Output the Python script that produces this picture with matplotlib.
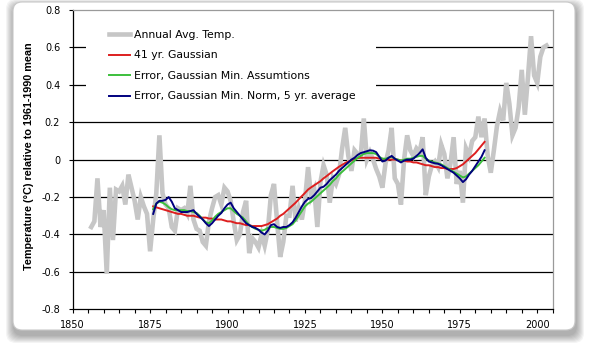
import numpy as np
import matplotlib
matplotlib.use("Agg")
import matplotlib.pyplot as plt
from matplotlib.patches import FancyBboxPatch, Rectangle
from matplotlib.transforms import IdentityTransform

# Annual global temperature anomaly, 1856-2003 (deg C, relative to 1961-1990)
annual_years = list(range(1856, 2004))
annual = [
    -0.36, -0.33, -0.10, -0.36, -0.27, -0.61, -0.15, -0.43, -0.16, -0.17,
    -0.14, -0.24, -0.08, -0.15, -0.22, -0.32, -0.20, -0.25, -0.29, -0.49,
    -0.32, -0.18, 0.13, -0.18, -0.24, -0.26, -0.36, -0.38, -0.26, -0.27,
    -0.26, -0.29, -0.14, -0.32, -0.37, -0.38, -0.44, -0.46, -0.33, -0.26,
    -0.20, -0.19, -0.24, -0.15, -0.17, -0.22, -0.33, -0.43, -0.40, -0.28,
    -0.22, -0.50, -0.42, -0.44, -0.47, -0.40, -0.46, -0.38, -0.19, -0.13,
    -0.33, -0.52, -0.44, -0.30, -0.30, -0.14, -0.33, -0.26, -0.32, -0.22,
    -0.04, -0.20, -0.16, -0.36, -0.12, -0.03, -0.08, -0.23, -0.10, -0.13,
    -0.08, 0.06, 0.17, 0.02, -0.06, 0.05, 0.03, 0.02, 0.22, 0.00,
    0.04, 0.00, -0.05, -0.09, -0.15, -0.02, 0.05, 0.17, -0.10, -0.13,
    -0.24, 0.00, 0.13, 0.05, 0.02, 0.06, 0.04, 0.12, -0.19, -0.09,
    -0.03, -0.01, -0.04, 0.08, 0.03, -0.10, -0.02, 0.12, -0.13, -0.06,
    -0.23, 0.06, 0.02, 0.10, 0.12, 0.23, 0.12, 0.22, 0.02, -0.07,
    0.05, 0.18, 0.26, 0.21, 0.41, 0.30, 0.13, 0.17, 0.28, 0.48,
    0.24, 0.44, 0.66, 0.45, 0.41, 0.55, 0.60, 0.61,
]

# Smoothed curves, 1876-1983
smooth_years = list(range(1876, 1984))
gauss41 = [
    -0.250, -0.255, -0.260, -0.265, -0.270, -0.275, -0.280, -0.285, -0.290, -0.290,
    -0.295, -0.300, -0.300, -0.300, -0.305, -0.310, -0.310, -0.310, -0.315, -0.315,
    -0.320, -0.320, -0.320, -0.325, -0.330, -0.330, -0.335, -0.340, -0.340, -0.345,
    -0.350, -0.350, -0.355, -0.355, -0.355, -0.355, -0.350, -0.345, -0.335, -0.325,
    -0.315, -0.300, -0.290, -0.275, -0.260, -0.245, -0.230, -0.212, -0.195, -0.178,
    -0.160, -0.148, -0.137, -0.126, -0.115, -0.100, -0.088, -0.075, -0.062, -0.050,
    -0.038, -0.028, -0.018, -0.010, -0.004, 0.003, 0.008, 0.010, 0.010, 0.010,
    0.010, 0.010, 0.010, 0.005, 0.005, 0.000, 0.000, 0.000, 0.000, 0.000,
    -0.005, -0.005, -0.010, -0.010, -0.015, -0.015, -0.020, -0.025, -0.030, -0.030,
    -0.035, -0.040, -0.040, -0.045, -0.045, -0.050, -0.050, -0.050, -0.045, -0.035,
    -0.025, -0.010, 0.005, 0.020, 0.035, 0.055, 0.075, 0.095,
]
err_min_assump = [
    -0.265, -0.235, -0.225, -0.230, -0.240, -0.255, -0.265, -0.270, -0.270, -0.270,
    -0.270, -0.275, -0.275, -0.280, -0.285, -0.300, -0.320, -0.335, -0.340, -0.325,
    -0.305, -0.290, -0.280, -0.270, -0.260, -0.260, -0.275, -0.290, -0.300, -0.310,
    -0.330, -0.350, -0.360, -0.370, -0.375, -0.380, -0.375, -0.365, -0.360, -0.360,
    -0.365, -0.370, -0.370, -0.365, -0.355, -0.345, -0.325, -0.300, -0.275, -0.250,
    -0.235, -0.225, -0.210, -0.195, -0.180, -0.165, -0.150, -0.135, -0.115, -0.100,
    -0.080, -0.065, -0.050, -0.035, -0.020, -0.005, 0.010, 0.020, 0.030, 0.035,
    0.035, 0.035, 0.030, 0.015, 0.005, 0.005, 0.010, 0.015, 0.005, 0.000,
    -0.005, 0.000, 0.005, 0.005, 0.010, 0.015, 0.020, 0.020, 0.005, -0.005,
    -0.010, -0.015, -0.020, -0.025, -0.035, -0.045, -0.055, -0.065, -0.075, -0.085,
    -0.095, -0.090, -0.075, -0.060, -0.045, -0.030, -0.010, 0.010,
]
err_min_norm5 = [
    -0.290, -0.235, -0.220, -0.220, -0.215, -0.200, -0.225, -0.260, -0.270, -0.280,
    -0.280, -0.280, -0.275, -0.270, -0.290, -0.305, -0.320, -0.340, -0.355, -0.340,
    -0.320, -0.300, -0.285, -0.260, -0.240, -0.230, -0.260, -0.280, -0.300, -0.320,
    -0.340, -0.350, -0.360, -0.365, -0.375, -0.390, -0.400, -0.380, -0.350, -0.345,
    -0.360, -0.365, -0.360, -0.360, -0.350, -0.335, -0.310, -0.280, -0.250, -0.225,
    -0.210, -0.205, -0.190, -0.170, -0.150, -0.145, -0.130, -0.110, -0.095, -0.080,
    -0.060, -0.045, -0.030, -0.015, 0.000, 0.010, 0.025, 0.035, 0.040, 0.045,
    0.050, 0.048, 0.040, 0.015, -0.010, -0.005, 0.010, 0.020, 0.005, -0.005,
    -0.015, -0.005, 0.000, 0.000, 0.005, 0.020, 0.035, 0.055, 0.010, -0.010,
    -0.015, -0.020, -0.022, -0.030, -0.040, -0.050, -0.060, -0.070, -0.085, -0.100,
    -0.120, -0.105, -0.080, -0.060, -0.035, -0.010, 0.015, 0.050,
]

labels = ["Annual Avg. Temp.", "41 yr. Gaussian",
          "Error, Gaussian Min. Assumtions",
          "Error, Gaussian Min. Norm, 5 yr. average"]
yticks = [-0.8, -0.6, -0.4, -0.2, 0, 0.2, 0.4, 0.6, 0.8]
xticks = [1850, 1875, 1900, 1925, 1950, 1975, 2000]

fig = plt.figure(figsize=(5.89, 3.54), dpi=100)

# rounded white panel with a soft drop shadow (pixel coords)
for k in range(8, 0, -1):
    sh = FancyBboxPatch((13 + 1, 24 - 5), 562, 328, boxstyle="round,pad=%d,rounding_size=10" % k,
                        transform=IdentityTransform(), facecolor="black", edgecolor="none",
                        alpha=0.045, zorder=-20)
    fig.add_artist(sh)
panel = FancyBboxPatch((13, 24), 562, 328, boxstyle="round,pad=0,rounding_size=9",
                       transform=IdentityTransform(), facecolor="white", edgecolor="#c8c8c8",
                       linewidth=0.8, zorder=-10)
fig.add_artist(panel)

ax = fig.add_axes([0.1234, 0.1263, 0.815, 0.8455])
ax.set_facecolor("none")

ax.plot(annual_years, annual, color="#c6c6c6", lw=3.3, solid_joinstyle="miter", label=labels[0], zorder=2)
ax.plot(smooth_years, gauss41, color="#dd1f1f", lw=1.4, label=labels[1], zorder=3)
ax.plot(smooth_years, err_min_assump, color="#3cbf3c", lw=1.4, label=labels[2], zorder=4)
ax.plot(smooth_years, err_min_norm5, color="#00007f", lw=1.4, label=labels[3], zorder=5)

ax.set_xlim(1850, 2005)
ax.set_ylim(-0.8, 0.8)
ax.set_xticks(xticks)
ax.set_xticks(range(1850, 2006, 5), minor=True)
ax.set_yticks(yticks)
ax.set_yticklabels(["%g" % v if v != 0 else "0" for v in yticks])
ax.tick_params(which="both", direction="out", length=3, width=0.8, labelsize=7, colors="black")
ax.tick_params(axis="y", pad=6)
ax.tick_params(axis="x", pad=5)

ax.set_axisbelow(True)
ax.grid(axis="y", color="black", lw=0.9)
ax.get_ygridlines()[-1].set_visible(False)
ax.get_ygridlines()[0].set_visible(False)

for s in ["left", "bottom"]:
    ax.spines[s].set_color("black")
    ax.spines[s].set_linewidth(0.9)
for s in ["top", "right"]:
    ax.spines[s].set_color("#9a9a9a")
    ax.spines[s].set_linewidth(0.9)

ax.set_ylabel("Temperature (\u00b0C) relative to 1961-1990 mean",
              fontfamily="Liberation Sans", fontweight="bold", fontsize=7.8)
ax.yaxis.set_label_coords(-0.08, 0.51)

# white box behind the legend hides the gridlines there
ax.add_patch(Rectangle((0.028, 0.67), 0.604, 0.31, transform=ax.transAxes,
                       facecolor="white", edgecolor="none", zorder=1))

leg = ax.legend(loc="upper left", bbox_to_anchor=(0.066, 0.948), frameon=False,
                fontsize=7.8, handlelength=2.0, handletextpad=0.3, labelspacing=0.97,
                borderaxespad=0)
leg.get_lines()[0].set_linewidth(3.3)

fig.savefig("out.png", dpi=100)
